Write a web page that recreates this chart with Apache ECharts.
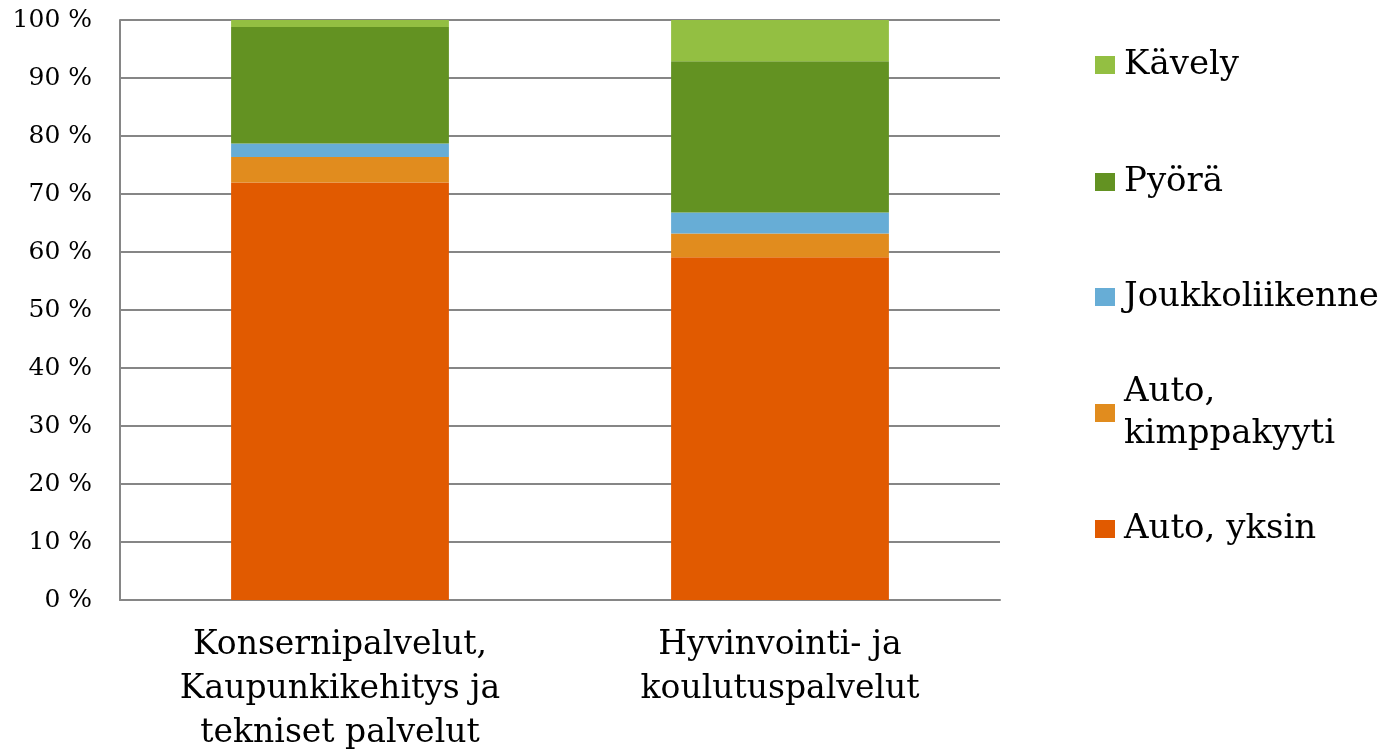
<!DOCTYPE html>
<html>
<head>
	<meta charset="UTF-8">
	<title>Kulkutapa</title>
	<style>
		html, body { margin: 0; padding: 0; background: #fff; }
		#main { width: 1389px; height: 754px; }
	</style>
</head>
<body>
	<div id="main"></div>
	<script src="https://cdn.jsdelivr.net/npm/echarts@6/dist/echarts.min.js"></script>
	<script>
	// kategoriat ja osuudet (%), alimmasta sarjasta ylimpään
	var categories = ['Konsernipalvelut,\nKaupunkikehitys ja\ntekniset palvelut', 'Hyvinvointi- ja\nkoulutuspalvelut'];
	var seriesNames = ['Auto, yksin', 'Auto, kimppakyyti', 'Joukkoliikenne', 'Pyörä', 'Kävely'];
	var autoYksin = [72.0, 59.1];
	var autoKimppa = [4.4, 4.1];
	var joukko = [2.3, 3.6];
	var pyora = [20.1, 26.1];
	var kavely = [1.2, 7.1];
	var yTicks = [0, 10, 20, 30, 40, 50, 60, 70, 80, 90, 100];

	var colors = ['#e15a00', '#e18c1e', '#67add6', '#639222', '#93bf42'];
	var values = [autoYksin, autoKimppa, joukko, pyora, kavely];
	var font = '"DejaVu Serif", serif';

	var series = [];
	for (var i = 0; i < seriesNames.length; i++) {
		series.push({
			name: seriesNames[i],
			type: 'bar',
			stack: 'total',
			barWidth: '49.5%',
			data: values[i],
			itemStyle: { color: colors[i] }
		});
	}

	// yksi selite per rivi, jotta välit vastaavat kuvaa
	var legendCenters = [529, 413, 297, 182, 65];
	var legends = [];
	for (var i = 0; i < seriesNames.length; i++) {
		var two = seriesNames[i] == 'Auto, kimppakyyti';
		legends.push({
			data: [seriesNames[i]],
			left: 1095,
			top: two ? legendCenters[i] - 63 : legendCenters[i] - 21,
			padding: 0,
			icon: 'rect',
			itemWidth: 20,
			itemHeight: 18,
			selectedMode: false,
			formatter: function(name) {
				return name == 'Auto, kimppakyyti' ? 'Auto,\nkimppakyyti' : name;
			},
			textStyle: {
				fontFamily: font,
				fontSize: 34,
				color: '#000',
				lineHeight: 42,
				padding: two ? [42, 0, 0, 4] : [0, 0, 0, 4]
			}
		});
	}

	var myChart = echarts.init(document.getElementById('main'));
	myChart.setOption({
		animation: false,
		grid: { left: 120, right: 389, top: 20, bottom: 154, outerBoundsMode: 'none' },
		legend: legends,
		xAxis: {
			type: 'category',
			data: categories,
			axisLine: { lineStyle: { color: '#868686', width: 2 } },
			axisTick: { show: false },
			axisLabel: {
				interval: 0,
				margin: 23,
				fontFamily: font,
				fontSize: 33,
				lineHeight: 44,
				color: '#000'
			}
		},
		yAxis: {
			type: 'value',
			min: yTicks[0],
			max: yTicks[yTicks.length - 1],
			interval: 10,
			axisLine: { show: true, lineStyle: { color: '#868686', width: 2 } },
			axisTick: { show: false },
			splitLine: { lineStyle: { color: '#868686', width: 2 } },
			axisLabel: {
				margin: 28,
				formatter: '{value} %',
				fontFamily: font,
				fontSize: 25,
				color: '#000'
			}
		},
		series: series
	});
	</script>
</body>
</html>
